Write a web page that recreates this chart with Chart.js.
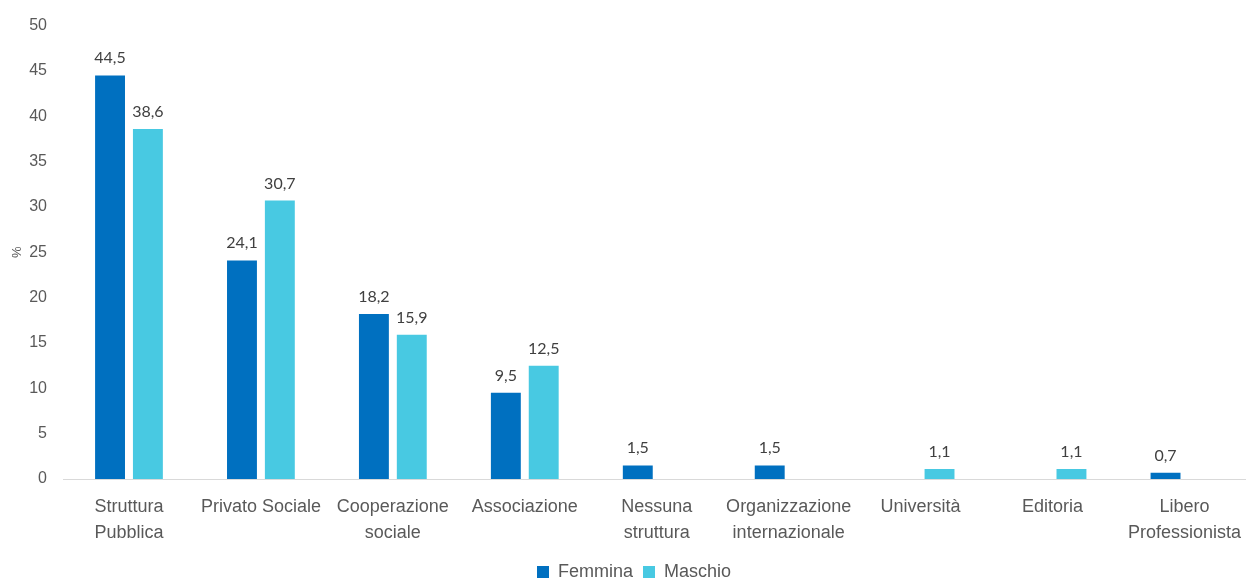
<!DOCTYPE html>
<html>
<head>
<meta charset="utf-8">
<script src="https://cdn.jsdelivr.net/npm/chart.js@4"></script>
<style>
html,body{margin:0;padding:0;background:#fff;overflow:hidden;}
#wrap{position:relative;width:1256px;height:579px;}
</style>
</head>
<body>
<div id="wrap"><canvas id="c"></canvas></div>
<script>
const categories = [
  ['Struttura','Pubblica'],
  'Privato Sociale',
  ['Cooperazione','sociale'],
  'Associazione',
  ['Nessuna','struttura'],
  ['Organizzazione','internazionale'],
  'Università',
  'Editoria',
  ['Libero','Professionista']
];
const femmina = [44.5, 24.1, 18.2, 9.5, 1.5, 1.5, null, null, 0.7];
const maschio = [38.6, 30.7, 15.9, 12.5, null, null, 1.1, 1.1, null];
const seriesNames = ['Femmina', 'Maschio'];
const yTicks = [0, 5, 10, 15, 20, 25, 30, 35, 40, 45, 50];

const labelPlugin = {
  id: 'valueLabels',
  afterDatasetsDraw(chart) {
    const ctx = chart.ctx;
    ctx.save();
    ctx.font = '16px Lato, "Open Sans", sans-serif';
    ctx.fillStyle = '#404040';
    ctx.textAlign = 'center';
    ctx.textBaseline = 'alphabetic';
    chart.data.datasets.forEach((ds, di) => {
      const meta = chart.getDatasetMeta(di);
      meta.data.forEach((el, i) => {
        const v = ds.data[i];
        if (v === null || v === undefined) return;
        ctx.fillText(v.toFixed(1).replace('.', ','), el.x, el.y - 12);
      });
    });
    ctx.restore();
  }
};

const legendPatch = {
  id: 'legendPatch',
  beforeLayout(chart) {
    const lg = chart.legend;
    if (lg && !lg._patched) {
      const f = lg.fit;
      lg.fit = function() { f.call(this); this.height -= 12; };
      lg._patched = true;
    }
  },
  afterLayout(chart) {
    if (chart.legend) { chart.legend.left += 6; chart.legend.right += 6; }
  }
};

new Chart(document.getElementById('c'), {
  type: 'bar',
  data: {
    labels: categories,
    datasets: [
      { label: seriesNames[0], data: femmina, backgroundColor: '#0070C0' },
      { label: seriesNames[1], data: maschio, backgroundColor: '#48C9E2' }
    ]
  },
  options: {
    responsive: true,
    maintainAspectRatio: false,
    animation: false,
    categoryPercentage: 0.574,
    barPercentage: 0.79,
    layout: { padding: { top: 21, right: 0, left: 0, bottom: 0 } },
    plugins: {
      legend: {
        position: 'bottom',
        labels: {
          boxWidth: 12, boxHeight: 12, padding: 10,
          color: '#595959',
          font: { family: '"Liberation Sans", Arial, sans-serif', size: 18 }
        }
      },
      tooltip: { enabled: false }
    },
    scales: {
      x: {
        grid: { display: false, drawTicks: false },
        border: { display: true, color: '#D9D9D9', width: 1 },
        ticks: {
          color: '#595959', padding: 15, maxRotation: 0, autoSkip: false,
          font: { family: '"Liberation Sans", Arial, sans-serif', size: 18, lineHeight: 1.44 }
        },
        afterFit(s) { s.height = 74; }
      },
      y: {
        min: 0, max: 50,
        afterBuildTicks(s) { s.ticks = yTicks.map(v => ({ value: v })); },
        grid: { display: false, drawTicks: false },
        border: { display: false },
        ticks: {
          color: '#595959', padding: 16,
          font: { family: '"Liberation Sans", Arial, sans-serif', size: 16 }
        },
        title: {
          display: true, text: '%', color: '#595959',
          font: { family: '"Liberation Sans", Arial, sans-serif', size: 13 },
          padding: { top: 10, bottom: 0 }
        },
        afterFit(s) { s.width = 63; }
      }
    }
  },
  plugins: [labelPlugin, legendPatch]
});
</script>
</body>
</html>
